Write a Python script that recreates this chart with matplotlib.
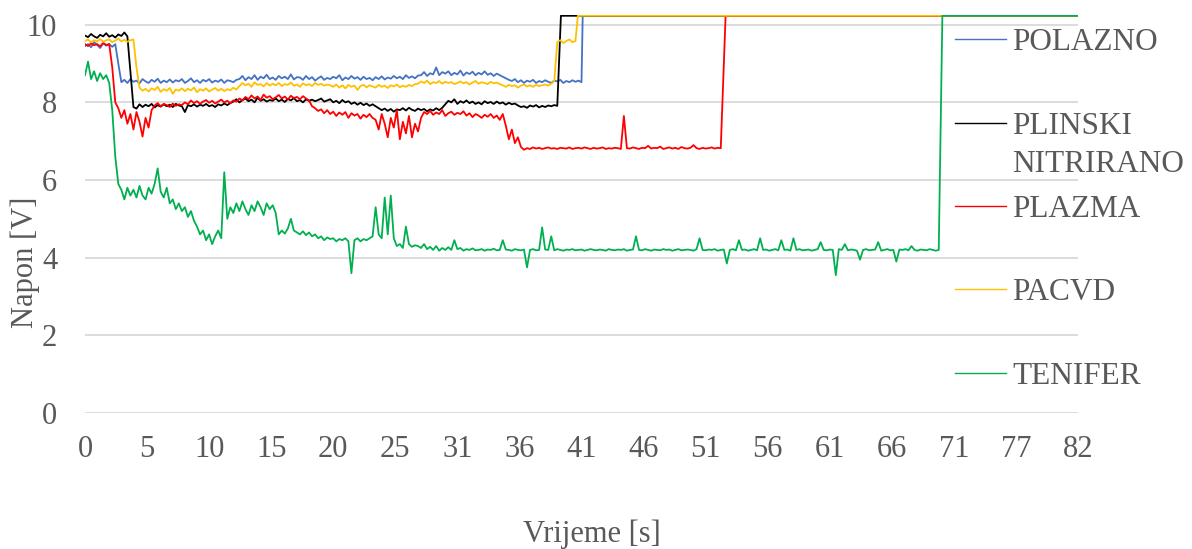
import numpy as np
import matplotlib
matplotlib.use("Agg")
import matplotlib.pyplot as plt
from matplotlib.lines import Line2D

# ---------------- data ----------------
STEP = 0.25         # sampling step of the recorded values [s]
TOP = 10.23         # saturated reading at the top of the chart
T_END = 82

x_tick_labels = ["0", "5", "10", "15", "20", "25", "31", "36", "41", "46",
                 "51", "56", "61", "66", "71", "77", "82"]
y_ticks = [0, 2, 4, 6, 8, 10]

names = ["POLAZNO", "PLINSKI\nNITRIRANO", "PLAZMA", "PACVD", "TENIFER"]
colors = ["#4472C4", "#000000", "#FF0000", "#FFC000", "#00B050"]

polazno = [9.45, 9.5, 9.42, 9.55, 9.48, 9.4, 9.52, 9.46, 9.5, 9.43, 9.5,
           9.0,
           8.52, 8.58, 8.5, 8.6, 8.53, 8.56, 8.49, 8.6, 8.54, 8.5,
           8.58, 8.53, 8.61, 8.5, 8.56, 8.52, 8.59, 8.51, 8.57, 8.54,
           8.6, 8.5, 8.55, 8.62, 8.52, 8.57, 8.5, 8.58, 8.54, 8.6,
           8.51, 8.56, 8.53, 8.59, 8.5, 8.57, 8.55, 8.52, 8.58,
           8.6, 8.68, 8.57, 8.65, 8.6, 8.7, 8.58, 8.66, 8.62, 8.71,
           8.6, 8.64, 8.58, 8.68, 8.62, 8.66, 8.6, 8.72, 8.59, 8.65,
           8.64, 8.58, 8.68, 8.6, 8.65, 8.56, 8.62, 8.67, 8.58, 8.63,
           8.6, 8.66, 8.62, 8.7, 8.57, 8.64, 8.6, 8.68, 8.61, 8.65,
           8.58, 8.66, 8.6, 8.63, 8.57, 8.65, 8.6, 8.67, 8.59, 8.64,
           8.61, 8.68, 8.62, 8.66, 8.6, 8.7, 8.63, 8.67, 8.62, 8.69,
           8.7, 8.78, 8.68, 8.75, 8.72, 8.9, 8.7, 8.78, 8.74, 8.8,
           8.7, 8.76, 8.72, 8.82, 8.69, 8.77, 8.73, 8.79, 8.7, 8.76,
           8.72, 8.8, 8.71, 8.75, 8.68, 8.74, 8.7, 8.66,
           8.62, 8.58, 8.55, 8.6, 8.52, 8.57, 8.5, 8.56, 8.53, 8.58,
           8.5, 8.55, 8.52, 8.57, 8.53, 8.5, 8.56, 8.54, 8.58, 8.5,
           8.55, 8.52, 8.57, 8.53, 8.56, 8.52]
polazno_jump = 41.1

plinski = [9.72, 9.68, 9.76, 9.7, 9.66, 9.74, 9.7, 9.78, 9.69, 9.73, 9.67, 9.75, 9.71, 9.8, 9.7,
           8.8,
           7.88, 7.84, 7.95, 7.88, 7.94, 7.9, 7.96, 7.87, 7.93, 7.89,
           7.95, 7.9, 7.94, 7.88, 7.96, 7.92, 7.9, 7.75, 7.93, 7.9,
           7.95, 7.89, 7.94, 7.91, 7.96, 7.9, 7.93, 7.88, 7.95, 7.92,
           7.97, 7.93, 7.98,
           8.02, 8.08, 8.0, 8.06, 8.1, 8.03, 8.07, 8.0, 8.12, 8.04,
           8.08, 8.02, 8.06, 8.04, 8.1, 8.03, 8.07, 8.01, 8.09, 8.05,
           8.11, 8.03, 8.06, 8.0, 8.08, 8.04, 8.07, 8.03,
           8.06, 8.1, 8.02, 8.05, 8.08, 8.0, 8.04, 7.98, 8.06, 8.0,
           8.03, 7.96, 8.0, 7.94, 7.99, 7.93, 7.97, 7.91, 7.95, 7.9,
           7.85, 7.8, 7.84, 7.78, 7.83, 7.76, 7.82, 7.8, 7.85, 7.79,
           7.86, 7.81, 7.78, 7.84, 7.8, 7.83, 7.77, 7.82, 7.79, 7.85,
           7.8, 7.86,
           7.95, 8.04, 8.0, 8.08, 7.96, 8.03, 7.99, 8.05, 7.98, 8.02,
           7.96, 8.0, 7.95, 8.03, 7.98, 8.01, 7.96, 8.02, 7.97, 8.0,
           7.94, 7.99, 7.95, 7.97,
           7.92, 7.88, 7.9, 7.86, 7.92, 7.89, 7.93, 7.87, 7.91, 7.88, 7.92, 7.9, 7.93, 7.91]
plinski_jump = 39.3

plazma = [9.5, 9.45, 9.52, 9.47, 9.5, 9.44, 9.53, 9.48, 9.5,
          8.9,
          8.0,
          7.85, 7.6, 7.8, 7.45, 7.7, 7.3, 7.75, 7.5, 7.12, 7.6, 7.35, 7.8,
          7.92, 7.98, 7.9, 7.96, 7.93, 7.88, 7.97, 7.91, 7.95, 7.93,
          8.0, 7.95, 8.05, 7.98, 8.03, 7.96, 8.02, 8.06, 7.99, 8.04,
          7.97, 8.02, 8.07, 8.0, 8.04, 7.98, 8.05, 8.02,
          8.1, 8.05, 8.14, 8.08, 8.18, 8.1, 8.15, 8.06, 8.2, 8.12,
          8.16, 8.08, 8.13, 8.19, 8.1, 8.15, 8.07, 8.17, 8.11, 8.14,
          8.08, 8.16, 8.1, 8.05,
          7.9, 7.85, 7.78, 7.82, 7.72, 7.8, 7.7, 7.76, 7.65, 7.74,
          7.68, 7.75, 7.6, 7.72, 7.66, 7.7, 7.58, 7.68, 7.62, 7.7, 7.6,
          7.55, 7.3, 7.7, 7.45, 7.1, 7.6, 7.35, 7.8, 7.05, 7.5,
          7.2, 7.65, 7.1, 7.45, 7.25, 7.6,
          7.75, 7.7, 7.78, 7.68, 7.74, 7.7, 7.8, 7.65, 7.72, 7.76,
          7.68, 7.73, 7.7, 7.77, 7.66, 7.72, 7.62, 7.7, 7.66, 7.6,
          7.68, 7.63, 7.7, 7.6, 7.66,
          7.55, 7.7, 7.4, 7.05, 7.3, 6.95, 7.1, 6.85, 6.78,
          6.82, 6.8, 6.84, 6.81, 6.83, 6.8, 6.82, 6.84, 6.81, 6.82,
          6.8, 6.83, 6.82, 6.81, 6.84, 6.8, 6.82, 6.83, 6.81, 6.84,
          6.82, 6.8, 6.83, 6.81, 6.82, 6.84, 6.8, 6.82, 6.81, 6.83,
          6.82, 6.8,
          7.65,
          6.82, 6.81, 6.84, 6.82, 6.8, 6.83, 6.82,
          6.88, 6.81, 6.83, 6.82, 6.86, 6.8, 6.82, 6.84, 6.81, 6.83,
          6.8, 6.85, 6.82, 6.81, 6.83, 6.9, 6.82, 6.8, 6.83, 6.81,
          6.82, 6.84, 6.81, 6.83, 6.82]
plazma_jump = 52.9

pacvd = [9.58, 9.62, 9.55, 9.6, 9.57, 9.63, 9.56, 9.6, 9.62, 9.55, 9.59, 9.64, 9.57, 9.61, 9.56, 9.6, 9.62,
         8.9,
         8.38, 8.3, 8.35, 8.28, 8.36, 8.32, 8.4, 8.27, 8.34, 8.3,
         8.37, 8.22, 8.33, 8.3, 8.36, 8.29, 8.35, 8.31, 8.38, 8.26,
         8.34, 8.3, 8.36, 8.28, 8.33, 8.37, 8.3, 8.35, 8.29, 8.34,
         8.31, 8.38, 8.33,
         8.42, 8.5, 8.44, 8.48, 8.4, 8.52, 8.45, 8.47, 8.41, 8.5,
         8.43, 8.48, 8.44, 8.5, 8.42, 8.47, 8.45, 8.51, 8.43, 8.46,
         8.4, 8.49, 8.44, 8.47, 8.42, 8.5, 8.45, 8.48, 8.43, 8.46, 8.44,
         8.4, 8.46, 8.38, 8.44, 8.36, 8.45, 8.4, 8.43, 8.32, 8.42,
         8.45, 8.39, 8.44, 8.41, 8.38, 8.45, 8.4, 8.43, 8.37, 8.44,
         8.41, 8.46, 8.39, 8.43, 8.4, 8.45, 8.42, 8.47,
         8.48, 8.54, 8.5, 8.56, 8.47, 8.52, 8.5, 8.55, 8.48, 8.53,
         8.5, 8.52, 8.47, 8.5, 8.54, 8.49, 8.52, 8.46, 8.51, 8.55,
         8.48, 8.52, 8.5, 8.47, 8.53, 8.49, 8.51, 8.47,
         8.44, 8.4, 8.45, 8.42, 8.44, 8.38, 8.43, 8.46, 8.41, 8.44,
         8.4, 8.45, 8.42, 8.44, 8.46, 8.43, 8.48, 8.55,
         9.55, 9.6, 9.53, 9.58, 9.62, 9.55, 9.58]
pacvd_jump = 40.7

tenifer = [8.7, 9.05, 8.6, 8.8, 8.55, 8.75, 8.6, 8.7, 8.5,
           7.8,
           6.6,
           5.9, 5.75, 5.5, 5.8, 5.6, 5.75, 5.55, 5.85, 5.6, 5.5, 5.8, 5.65, 5.9, 6.3,
           5.7, 5.55, 5.8, 5.4, 5.5, 5.25, 5.4, 5.2, 5.3, 5.05, 5.2, 4.95,
           4.8, 4.6, 4.7, 4.45, 4.6, 4.35, 4.55, 4.7, 4.5,
           6.2,
           5.0, 5.3, 5.15, 5.4, 5.2, 5.45, 5.25, 5.1, 5.35, 5.2, 5.45, 5.3, 5.1, 5.4, 5.25, 5.35, 5.15,
           4.6, 4.7, 4.62, 4.75, 5.0, 4.7,
           4.65, 4.6, 4.68, 4.58, 4.65, 4.55, 4.6, 4.5, 4.55, 4.45, 4.52, 4.48, 4.5, 4.42, 4.48, 4.45, 4.5, 4.42,
           3.6,
           4.45, 4.5, 4.42, 4.48, 4.45, 4.5, 4.55,
           5.3, 4.6, 4.5, 5.55, 4.6, 5.6, 4.5, 4.3, 4.35, 4.25, 4.8, 4.35, 4.28, 4.32,
           4.3, 4.25, 4.35, 4.22, 4.28, 4.2, 4.3, 4.18, 4.25, 4.2,
           4.27, 4.2, 4.45, 4.22, 4.25, 4.18, 4.22, 4.2, 4.24, 4.19,
           4.2, 4.22, 4.18, 4.21, 4.2, 4.23, 4.19, 4.2, 4.45, 4.21,
           4.2, 4.18, 4.22, 4.2, 4.19, 4.21, 3.75, 4.2, 4.22, 4.19,
           4.2, 4.78, 4.21, 4.2, 4.55, 4.19, 4.22, 4.2, 4.18, 4.21,
           4.2, 4.22, 4.19, 4.2, 4.21, 4.18, 4.2, 4.22, 4.2, 4.19,
           4.21, 4.2, 4.18, 4.22, 4.2, 4.19, 4.21, 4.2, 4.22, 4.18,
           4.2, 4.21, 4.55, 4.2, 4.19, 4.22, 4.2, 4.18, 4.21, 4.2,
           4.19, 4.22, 4.2, 4.21, 4.18, 4.2, 4.22, 4.19, 4.2, 4.21,
           4.2, 4.18, 4.22, 4.5, 4.2, 4.19, 4.21, 4.2, 4.22, 4.18,
           4.2, 4.21, 3.85, 4.2, 4.22, 4.19, 4.45, 4.2, 4.21, 4.18,
           4.2, 4.22, 4.19, 4.5, 4.2, 4.21, 4.18, 4.2, 4.22, 4.19,
           4.45, 4.2, 4.21, 4.18, 4.5, 4.2, 4.22, 4.19, 4.2, 4.21,
           4.18, 4.2, 4.22, 4.4, 4.2, 4.19, 4.21, 4.2, 3.55, 4.22,
           4.2, 4.35, 4.19, 4.21, 4.2, 4.18, 3.95, 4.2, 4.22, 4.19,
           4.2, 4.21, 4.4, 4.18, 4.2, 4.22, 4.19, 4.2, 3.9, 4.21,
           4.2, 4.22, 4.19, 4.3, 4.2, 4.18, 4.21, 4.2, 4.19, 4.22,
           4.2, 4.18, 4.2]
tenifer_jump = 70.8

series = [(polazno, polazno_jump), (plinski, plinski_jump), (plazma, plazma_jump),
          (pacvd, pacvd_jump), (tenifer, tenifer_jump)]

# ---------------- plot ----------------
plt.rcParams['font.family'] = ['Liberation Serif', 'DejaVu Serif']
TXT = "#595959"
GRID = "#D9D9D9"
FS = 22

W, H = 1192, 549
fig = plt.figure(figsize=(W / 100, H / 100), dpi=100)
ax = fig.add_axes([85 / W, 1 - 413 / H, (1078 - 85) / W, (413 - 15) / H])

for (vals, jump), c in zip(series, colors):
    t = list(np.arange(len(vals)) * STEP) + [jump, T_END]
    v = list(vals) + [TOP, TOP]
    ax.plot(t, v, color=c, lw=1.3)

ax.set_xlim(0, T_END)
ax.set_ylim(0, 10.25)
ax.set_yticks(y_ticks)
ax.set_yticklabels([str(v) for v in y_ticks])
xt = np.linspace(0, T_END, len(x_tick_labels))
ax.set_xticks(xt)
ax.set_xticklabels(x_tick_labels)
ax.tick_params(axis='both', length=0, labelsize=FS, colors=TXT)
ax.tick_params(axis='x', pad=16)
ax.tick_params(axis='y', pad=20)
for s in ax.spines.values():
    s.set_visible(False)
ax.grid(axis='y', color=GRID, lw=1.3)
ax.set_axisbelow(True)

fig.text(592 / W, 1 - 542 / H, "Vrijeme [s]", ha='center', va='baseline',
         fontsize=FS, color=TXT)
fig.text(25 / W, 1 - 262 / H, "Napon [V]", ha='center', va='center',
         rotation=90, fontsize=FS, color=TXT)

# legend on the right
leg_y = [39, 123, 206, 289, 373]
for name, c, yy in zip(names, colors, leg_y):
    fig.add_artist(Line2D([955 / W, 1006 / W], [1 - yy / H, 1 - yy / H],
                          transform=fig.transFigure, color=c, lw=1.0))
    for k, part in enumerate(name.split("\n")):
        fig.text(1012 / W, 1 - (yy + 11 + 38 * k) / H, part, ha='left', va='baseline',
                 fontsize=22.5, color=TXT)

fig.savefig("out.png", dpi=100)
